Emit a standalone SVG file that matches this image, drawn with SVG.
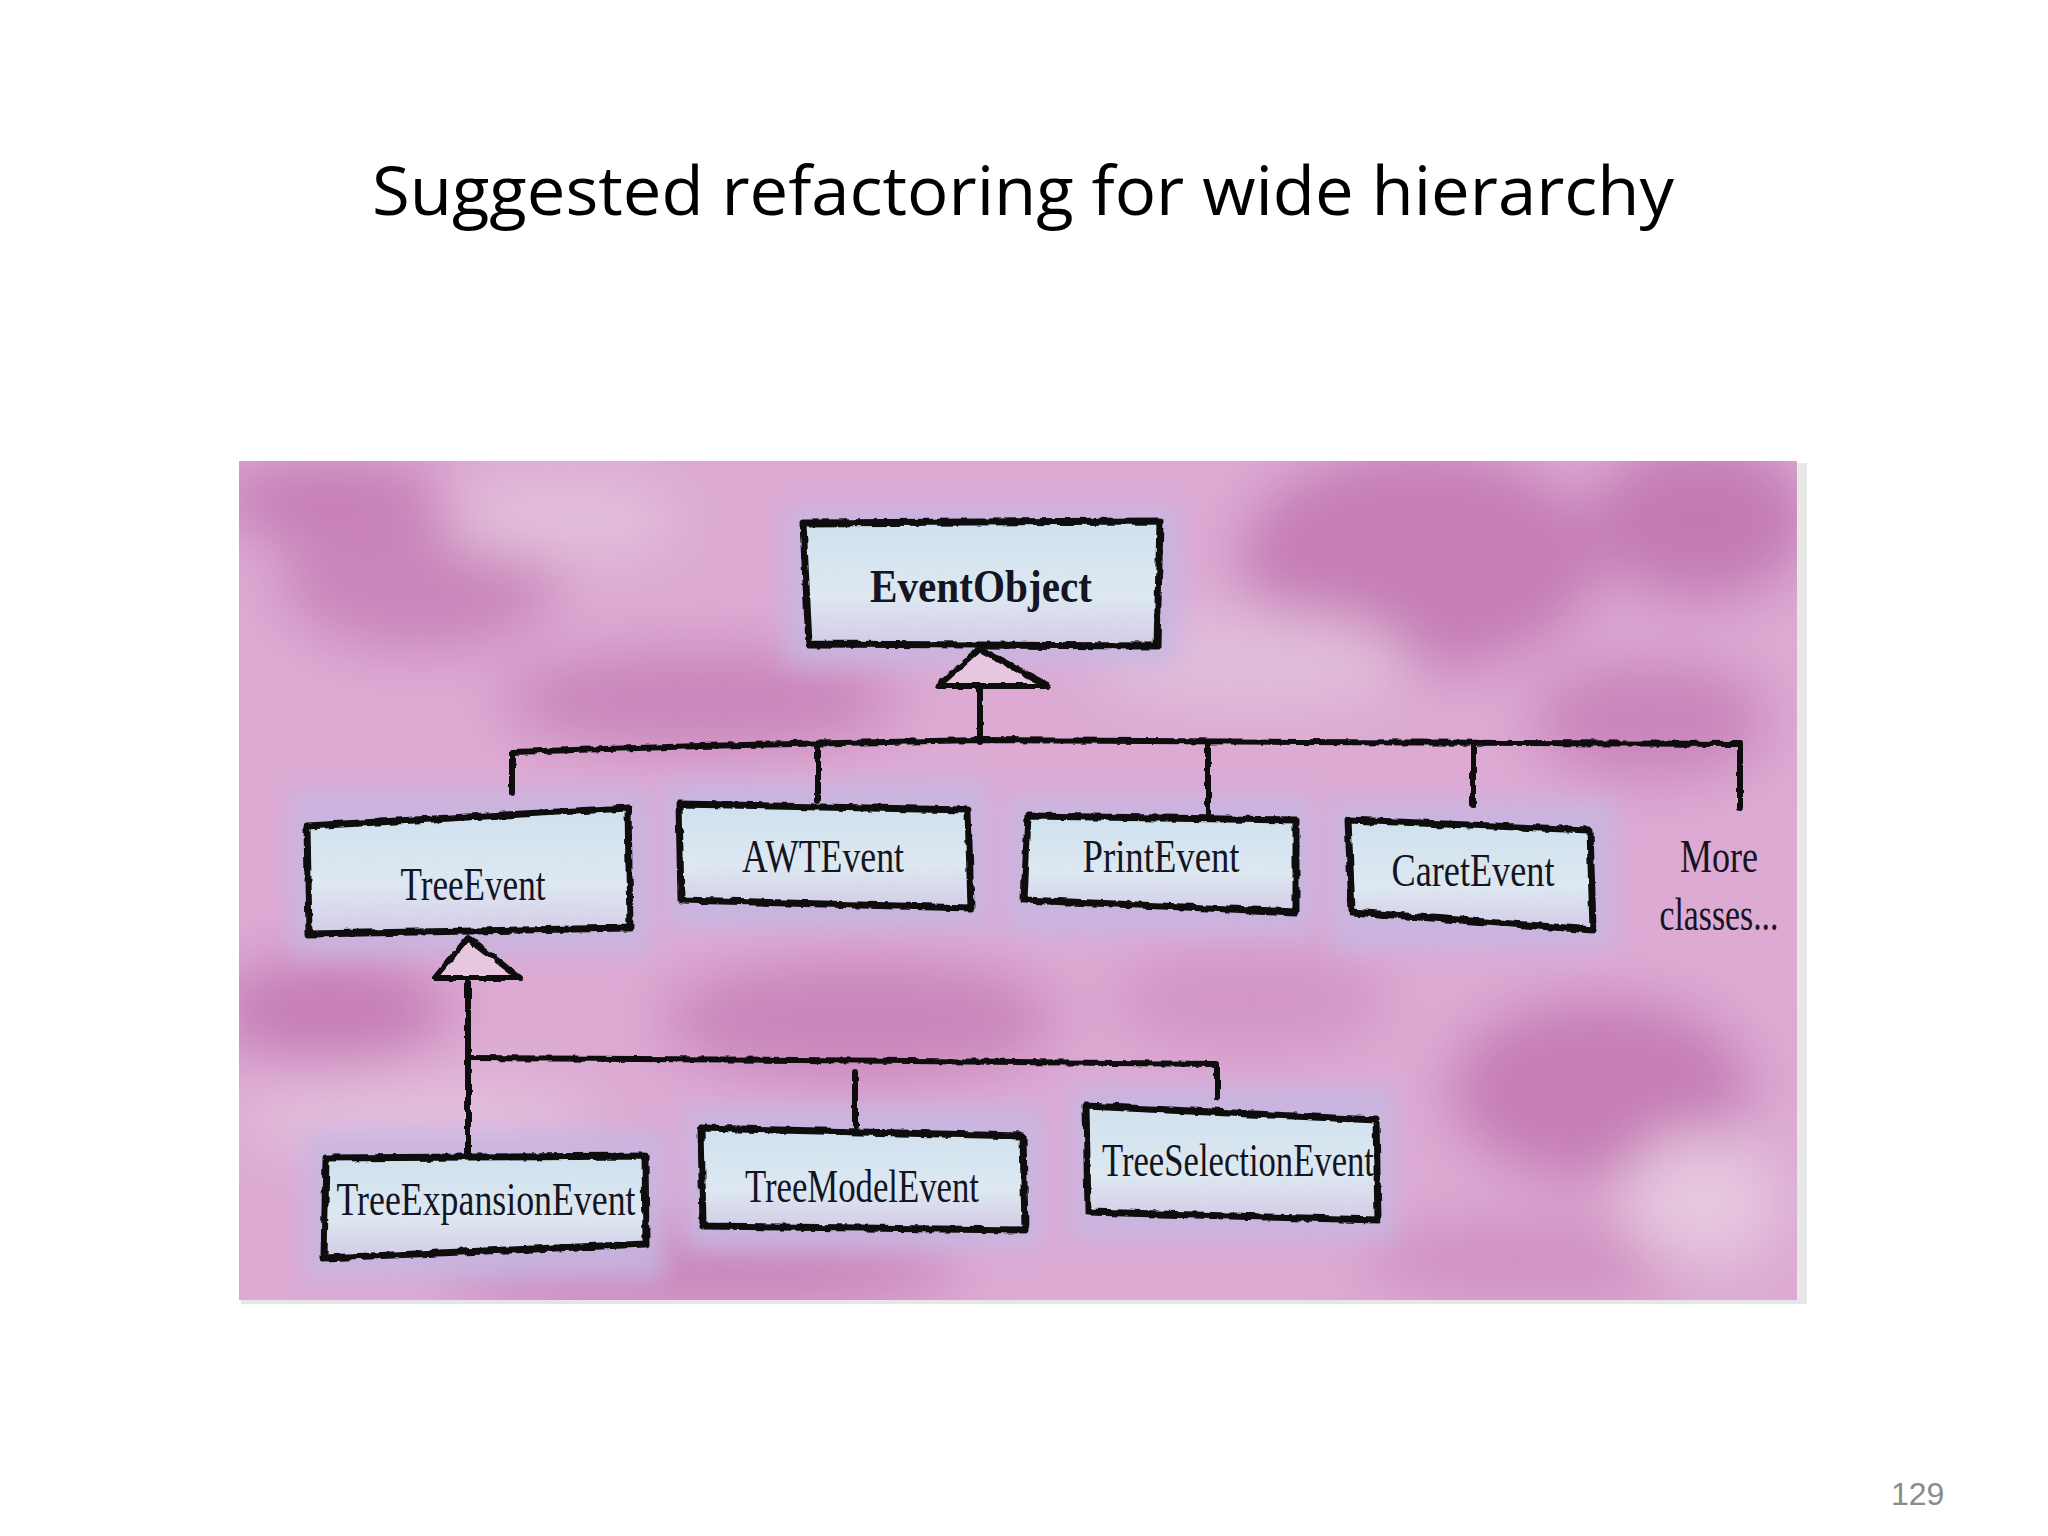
<svg xmlns="http://www.w3.org/2000/svg" width="2048" height="1536" viewBox="0 0 2048 1536">
  <defs>
    <filter id="rough" filterUnits="userSpaceOnUse" x="0" y="0" width="2048" height="1536">
      <feTurbulence type="fractalNoise" baseFrequency="0.09" numOctaves="2" seed="4" result="n"/>
      <feDisplacementMap in="SourceGraphic" in2="n" scale="5" xChannelSelector="R" yChannelSelector="G"/>
    </filter>
    <filter id="wash" filterUnits="userSpaceOnUse" x="0" y="0" width="2048" height="1536">
      <feGaussianBlur stdDeviation="28"/>
    </filter>
    <filter id="halo" filterUnits="userSpaceOnUse" x="0" y="0" width="2048" height="1536">
      <feGaussianBlur stdDeviation="12"/>
    </filter>
    <clipPath id="panelClip">
      <rect x="239" y="461" width="1558" height="839"/>
    </clipPath>
    <linearGradient id="boxFill" x1="0" y1="0" x2="0" y2="1">
      <stop offset="0" stop-color="#cfe1ee"/>
      <stop offset="0.6" stop-color="#dde8f1"/>
      <stop offset="1" stop-color="#d3cbe6"/>
    </linearGradient>
    <style>
      .title { font-family: "Open Sans", "Liberation Sans", sans-serif; font-size: 68px; fill: #000; }
      .pnum { font-family: "Liberation Sans", Arial, sans-serif; font-size: 32px; fill: #8a8a8a; }
      .box { fill: url(#boxFill); stroke: #111; stroke-width: 7; stroke-linejoin: round; filter: url(#rough); }
      .halo { fill: #c6b7e2; filter: url(#halo); opacity: 0.85; }
      .lbl { font-family: "Liberation Serif", "DejaVu Serif", serif; font-size: 46px; fill: #141422; text-anchor: middle; }
      .conn { fill: none; stroke: #111; stroke-width: 6; stroke-linecap: round; stroke-linejoin: round; filter: url(#rough); }
      .tri { fill: #e7c6e0; stroke: #111; stroke-width: 6; stroke-linejoin: round; filter: url(#rough); }
    </style>
  </defs>

  <rect x="0" y="0" width="2048" height="1536" fill="#ffffff"/>

  <text class="title" x="372" y="215" textLength="1302" lengthAdjust="spacingAndGlyphs">Suggested refactoring for wide hierarchy</text>

  <!-- watercolor panel -->
  <rect x="1797" y="463" width="10" height="839" fill="#e8e8e8"/>
  <rect x="241" y="1300" width="1566" height="4" fill="#e6e6e6"/>
  <g clip-path="url(#panelClip)">
    <rect x="239" y="461" width="1558" height="839" fill="#dcaad3"/>
    <g filter="url(#wash)">
      <ellipse cx="330" cy="500" rx="120" ry="40" fill="#c57db5"/>
      <ellipse cx="420" cy="580" rx="140" ry="70" fill="#c985ba"/>
      <ellipse cx="560" cy="520" rx="120" ry="40" fill="#e4c0dd"/>
      <ellipse cx="700" cy="700" rx="200" ry="50" fill="#c985ba"/>
      <ellipse cx="1420" cy="560" rx="180" ry="110" fill="#c57db5"/>
      <ellipse cx="1700" cy="520" rx="110" ry="80" fill="#c27ab3"/>
      <ellipse cx="1650" cy="720" rx="120" ry="60" fill="#c985ba"/>
      <ellipse cx="1250" cy="660" rx="160" ry="50" fill="#e2bedc"/>
      <ellipse cx="330" cy="1010" rx="120" ry="50" fill="#c57db5"/>
      <ellipse cx="860" cy="1020" rx="200" ry="60" fill="#c985ba"/>
      <ellipse cx="1600" cy="1090" rx="150" ry="90" fill="#c57db5"/>
      <ellipse cx="1250" cy="1000" rx="140" ry="50" fill="#d195c4"/>
      <ellipse cx="700" cy="1270" rx="260" ry="40" fill="#c985ba"/>
      <ellipse cx="1540" cy="1260" rx="180" ry="40" fill="#cf90c1"/>
      <ellipse cx="1700" cy="1200" rx="80" ry="70" fill="#e6c6df"/>
      <ellipse cx="420" cy="1120" rx="180" ry="40" fill="#e4c0dd"/>
    </g>
  </g>

  <!-- halos -->
  <g id="halos">
    <rect class="halo" x="785" y="505" width="395" height="160"/>
    <rect class="halo" x="290" y="790" width="360" height="165"/>
    <rect class="halo" x="665" y="780" width="325" height="150"/>
    <rect class="halo" x="1005" y="795" width="310" height="140"/>
    <rect class="halo" x="1330" y="800" width="285" height="150"/>
    <rect class="halo" x="305" y="1130" width="360" height="150"/>
    <rect class="halo" x="685" y="1105" width="360" height="145"/>
    <rect class="halo" x="1070" y="1085" width="325" height="155"/>
  </g>

  <!-- connectors -->
  <g id="connectors">
    <polygon class="tri" points="980,649 938,686 1049,686"/>
    <path class="conn" d="M980,686 V742"/>
    <path class="conn" d="M512,752 L700,746 L980,740 L1300,742 L1740,744"/>
    <path class="conn" d="M512,752 V792"/>
    <path class="conn" d="M818,746 V800"/>
    <path class="conn" d="M1208,742 V818"/>
    <path class="conn" d="M1473,743 V806"/>
    <path class="conn" d="M1740,744 V808"/>
    <polygon class="tri" points="468,938 435,978 520,978"/>
    <path class="conn" d="M468,978 V1156"/>
    <path class="conn" d="M468,1058 L800,1060 L1217,1064 V1098"/>
    <path class="conn" d="M855,1072 V1126"/>
  </g>

  <g id="EventObject">
    <polygon class="box" points="803,523 1160,521 1157,646 809,644"/>
    <text class="lbl" x="981" y="602" font-size="52" font-weight="bold" textLength="222" lengthAdjust="spacingAndGlyphs">EventObject</text>
  </g>
  <g id="TreeEvent">
    <polygon class="box" points="307,826 628,808 630,928 309,934"/>
    <text class="lbl" x="473" y="900" textLength="145" lengthAdjust="spacingAndGlyphs">TreeEvent</text>
  </g>
  <g id="AWTEvent">
    <polygon class="box" points="679,804 968,810 971,908 681,900"/>
    <text class="lbl" x="823" y="872" textLength="162" lengthAdjust="spacingAndGlyphs">AWTEvent</text>
  </g>
  <g id="PrintEvent">
    <polygon class="box" points="1028,816 1296,820 1296,912 1024,900"/>
    <text class="lbl" x="1161" y="872" textLength="157" lengthAdjust="spacingAndGlyphs">PrintEvent</text>
  </g>
  <g id="CaretEvent">
    <polygon class="box" points="1348,820 1590,830 1593,930 1352,912"/>
    <text class="lbl" x="1473" y="886" textLength="163" lengthAdjust="spacingAndGlyphs">CaretEvent</text>
  </g>
  <g id="MoreClasses">
    <text class="lbl" x="1719" y="872" textLength="78" lengthAdjust="spacingAndGlyphs">More</text>
    <text class="lbl" x="1719" y="930" textLength="119" lengthAdjust="spacingAndGlyphs">classes...</text>
  </g>
  <g id="TreeExpansionEvent">
    <polygon class="box" points="326,1158 645,1156 646,1244 324,1258"/>
    <text class="lbl" x="486" y="1215" textLength="299" lengthAdjust="spacingAndGlyphs">TreeExpansionEvent</text>
  </g>
  <g id="TreeModelEvent">
    <polygon class="box" points="701,1128 1023,1136 1025,1230 703,1226"/>
    <text class="lbl" x="862" y="1202" textLength="234" lengthAdjust="spacingAndGlyphs">TreeModelEvent</text>
  </g>
  <g id="TreeSelectionEvent">
    <polygon class="box" points="1086,1106 1376,1120 1378,1220 1088,1212"/>
    <text class="lbl" x="1238" y="1176" textLength="272" lengthAdjust="spacingAndGlyphs">TreeSelectionEvent</text>
  </g>

  <text class="pnum" x="1891" y="1505">129</text>
</svg>
